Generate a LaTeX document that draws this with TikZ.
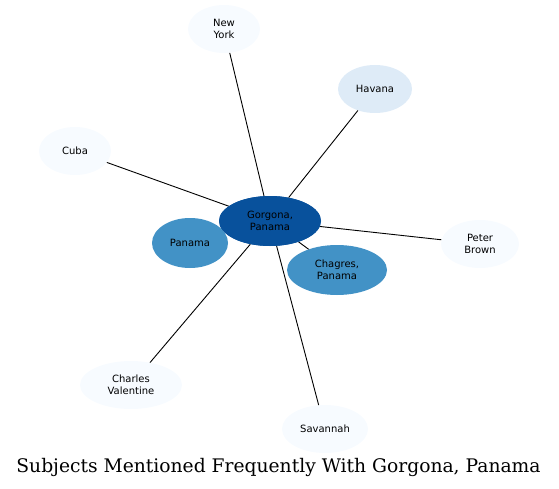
\documentclass[tikz,border=0pt]{standalone}
\usepackage{fontspec}
\setmainfont{DejaVu Serif}
\newfontfamily\nodefont{DejaVu Sans}
\usetikzlibrary{shapes.geometric}
\definecolor{cpale}{HTML}{F7FBFF}
\definecolor{clight}{HTML}{DEEBF7}
\definecolor{cmid}{HTML}{4292C6}
\definecolor{cdark}{HTML}{08519C}
\begin{document}
\begin{tikzpicture}[x=1pt,y=-1pt,
  subj/.style={ellipse,inner sep=0pt,align=center,
    font=\nodefont\fontsize{10}{12}\selectfont,text=black},
  edge/.style={draw=black,line width=0.9pt}]
\useasboundingbox (0,0) rectangle (559,489);
\node[subj,fill=cdark,minimum width=102,minimum height=50] (g) at (270,221) {Gorgona,\\Panama};
\node[subj,fill=cpale,minimum width=72,minimum height=48] (ny) at (224,29) {New\\York};
\node[subj,fill=clight,minimum width=74,minimum height=48] (hv) at (375,89) {Havana};
\node[subj,fill=cpale,minimum width=72,minimum height=48] (cu) at (75,151) {Cuba};
\node[subj,fill=cpale,minimum width=78,minimum height=48] (pb) at (480,244) {Peter\\Brown};
\node[subj,fill=cpale,minimum width=102,minimum height=48] (cv) at (131,385) {Charles\\Valentine};
\node[subj,fill=cpale,minimum width=86,minimum height=48] (sv) at (325,429) {Savannah};
\node[subj,fill=cmid,minimum width=100,minimum height=50] (ch) at (337,270) {Chagres,\\Panama};
\draw[edge] (g) -- (ny);
\draw[edge] (g) -- (hv);
\draw[edge] (g) -- (cu);
\draw[edge] (g) -- (pb);
\draw[edge] (g) -- (cv);
\draw[edge] (g) -- (sv);
\draw[edge] (g) -- (ch);
\node[subj,fill=cmid,minimum width=76,minimum height=50] (pa) at (190,243) {Panama};
\node[subj,fill=cdark,minimum width=102,minimum height=50] (g2) at (270,221) {Gorgona,\\Panama};
\node[font=\fontsize{18.7}{22}\selectfont,inner sep=0pt] (title) at (278.5,467.5) {Subjects Mentioned Frequently With Gorgona, Panama};
\end{tikzpicture}
\end{document}
